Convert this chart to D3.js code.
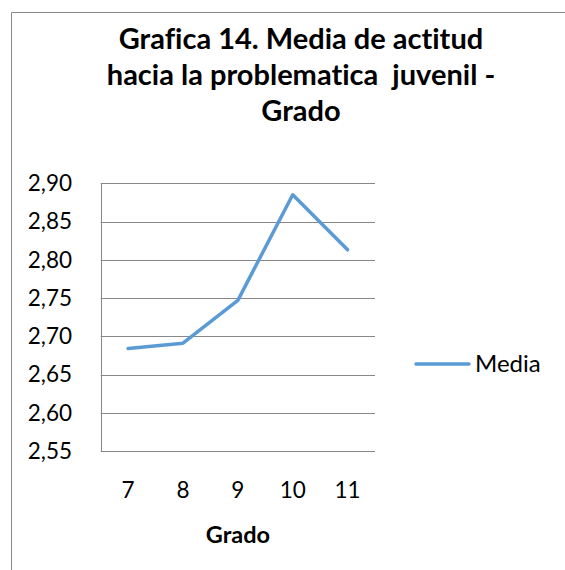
<!DOCTYPE html>
<html>
<head>
<meta charset="utf-8">
<script src="https://d3js.org/d3.v7.min.js"></script>
<style>
  body { margin: 0; background: #fff; }
  text { font-family: Lato, "Open Sans", sans-serif; fill: #000; font-variant-ligatures: none; }
</style>
</head>
<body>
<script>
    // data
    var grados = ["7", "8", "9", "10", "11"];
    var media = [2.684, 2.691, 2.747, 2.885, 2.813];
    var yTicks = [2.55, 2.60, 2.65, 2.70, 2.75, 2.80, 2.85, 2.90];
    var titleLines = ["Grafica 14. Media de actitud", "hacia la problematica  juvenil -", "Grado"];

    var W = 565, H = 570;
    var plot = { left: 100.7, right: 375, top: 183.3, bottom: 451 };

    var svg = d3.select("body").append("svg")
        .attr("width", W)
        .attr("height", H);

    // chart frame (cut off on the right and bottom)
    svg.append("path")
        .attr("d", "M11.5," + H + "V12.5H" + W)
        .attr("fill", "none")
        .attr("stroke", "#888");

    // title
    svg.append("text")
        .attr("x", 301)
        .attr("y", 48.6)
        .attr("text-anchor", "middle")
        .style("font-weight", "bold")
        .style("font-size", "29px")
        .selectAll("tspan")
        .data(titleLines)
        .enter()
        .append("tspan")
        .attr("x", 301)
        .attr("dy", function (d, i) { return i == 0 ? 0 : 36; })
        .style("white-space", "pre")
        .text(function (d) { return d; });

    var x = d3.scaleBand()
        .domain(grados)
        .range([plot.left, plot.right]);
    var y = d3.scaleLinear()
        .domain([2.55, 2.90])
        .range([plot.bottom, plot.top]);

    // gridlines
    svg.selectAll(".grid")
        .data(yTicks)
        .enter()
        .append("line")
        .attr("x1", plot.left)
        .attr("x2", plot.right)
        .attr("y1", function (d) { return Math.round(y(d)) + 0.5; })
        .attr("y2", function (d) { return Math.round(y(d)) + 0.5; })
        .attr("stroke", "#888")
        .attr("stroke-width", 1);

    // vertical axis line
    svg.append("line")
        .attr("x1", Math.round(plot.left) + 0.5)
        .attr("x2", Math.round(plot.left) + 0.5)
        .attr("y1", Math.round(plot.top) + 0.5)
        .attr("y2", Math.round(plot.bottom) + 0.5)
        .attr("stroke", "#888");

    // y labels
    var fmt = function (d) { return d3.format(".2f")(d).replace(".", ","); };
    svg.selectAll(".ylab")
        .data(yTicks)
        .enter()
        .append("text")
        .attr("x", 72)
        .attr("y", function (d) { return y(d); })
        .attr("dy", "0.35em")
        .attr("text-anchor", "end")
        .style("font-size", "22.5px")
        .text(fmt);

    // x labels
    svg.selectAll(".xlab")
        .data(grados)
        .enter()
        .append("text")
        .attr("x", function (d) { return x(d) + x.bandwidth() / 2; })
        .attr("y", 490)
        .attr("dy", "0.35em")
        .attr("text-anchor", "middle")
        .style("font-size", "22.5px")
        .text(function (d) { return d; });

    svg.append("text")
        .attr("x", 238)
        .attr("y", 535)
        .attr("dy", "0.35em")
        .attr("text-anchor", "middle")
        .style("font-weight", "bold")
        .style("font-size", "23.5px")
        .text("Grado");

    // line
    var line = d3.line()
        .x(function (d, i) { return x(grados[i]) + x.bandwidth() / 2; })
        .y(function (d) { return y(d); });

    svg.append("path")
        .datum(media)
        .attr("d", line)
        .attr("fill", "none")
        .attr("stroke", "#5B9BD5")
        .attr("stroke-width", 3.5)
        .attr("stroke-linejoin", "round")
        .attr("stroke-linecap", "round");

    // legend
    svg.append("line")
        .attr("x1", 416)
        .attr("x2", 469)
        .attr("y1", 364)
        .attr("y2", 364)
        .attr("stroke", "#5B9BD5")
        .attr("stroke-width", 3.5)
        .attr("stroke-linecap", "round");
    svg.append("text")
        .attr("x", 475)
        .attr("y", 364)
        .attr("dy", "0.35em")
        .style("font-size", "24px")
        .text("Media");
</script>
</body>
</html>
